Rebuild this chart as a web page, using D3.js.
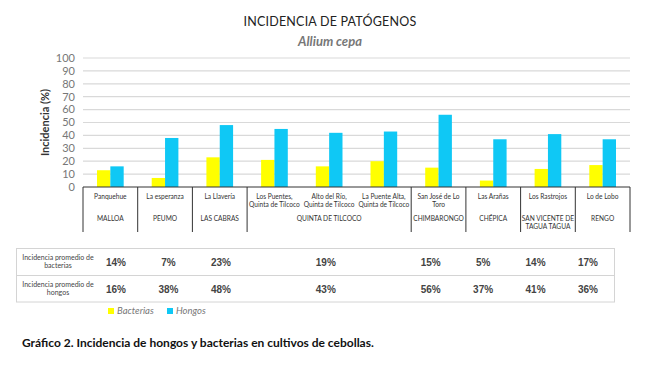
<!DOCTYPE html>
<html>
<head>
<meta charset="utf-8">
<script src="https://cdn.jsdelivr.net/npm/d3@7"></script>
<style>
	body { margin: 0; background: #fff; }
	text { font-family: Lato, "Open Sans", sans-serif; }
</style>
</head>
<body>
<svg id="chart"></svg>
<script>
const sites = ["Panquehue", "La esperanza", "La Llavería", "Los Puentes,|Quinta de Tilcoco", "Alto del Río,|Quinta de Tilcoco",
	"La Puente Alta,|Quinta de Tilcoco", "San José de Lo|Toro", "Las Arañas", "Los Rastrojos", "Lo de Lobo"];
const series = ["Bacterias", "Hongos"];
const bacterias = [13, 7, 23, 21, 16, 20, 15, 5, 14, 17];
const hongos = [16, 38, 48, 45, 42, 43, 56, 37, 41, 37];
const groups = ["MALLOA", "PEUMO", "LAS CABRAS", "QUINTA DE TILCOCO", "CHIMBARONGO", "CHÉPICA", "SAN VICENTE DE|TAGUA TAGUA", "RENGO"];
const groupSpan = [1, 1, 1, 3, 1, 1, 1, 1];
const avgBacterias = ["14%", "7%", "23%", "19%", "15%", "5%", "14%", "17%"];
const avgHongos = ["16%", "38%", "48%", "43%", "56%", "37%", "41%", "36%"];
const rowLabels = ["Incidencia promedio de|bacterias", "Incidencia promedio de|hongos"];
const yTicks = d3.range(0, 101, 10);

const W = 660, H = 372;
const colors = { Bacterias: "#ffff00", Hongos: "#0fc8f5" };

const svg = d3.select("#chart").attr("width", W).attr("height", H);

const x = d3.scaleBand().domain(sites).range([83, 630]);
const x1 = d3.scaleBand().domain(series).range([0, x.bandwidth()]).paddingOuter(1.05);
const y = d3.scaleLinear().domain([0, 100]).range([187, 58]);

// title
svg.append("text").attr("x", 330).attr("y", 26).attr("text-anchor", "middle")
	.attr("font-size", 12.5).attr("fill", "#222").attr("letter-spacing", 0.2)
	.text("INCIDENCIA  DE PATÓGENOS");
svg.append("text").attr("x", 330).attr("y", 46).attr("text-anchor", "middle")
	.attr("font-size", 13).attr("font-style", "italic").attr("font-weight", "bold").attr("fill", "#777")
	.text("Allium cepa");

// grid
svg.append("g").selectAll("line").data(yTicks.slice(1)).enter().append("line")
	.attr("x1", 83).attr("x2", 630).attr("y1", d => y(d)).attr("y2", d => y(d))
	.attr("stroke", "#d9d9d9").attr("stroke-width", 1.2);

svg.append("g").selectAll("text").data(yTicks).enter().append("text")
	.attr("x", 75).attr("y", d => y(d)).attr("dy", "0.35em").attr("text-anchor", "end")
	.attr("font-size", 11).attr("fill", "#777").text(d => d);

svg.append("text").attr("transform", `translate(49,${(y(0) + y(100)) / 2}) rotate(-90)`)
	.attr("text-anchor", "middle").attr("font-size", 11).attr("font-weight", "bold").attr("fill", "#333")
	.text("Incidencia (%)");

// bars
const rows = sites.map((s, i) => ({ site: s, values: [bacterias[i], hongos[i]] }));
svg.append("g").selectAll("g").data(rows).enter().append("g")
	.attr("transform", d => `translate(${x(d.site)},0)`)
	.selectAll("rect").data(d => d.values.map((v, j) => ({ key: series[j], v }))).enter().append("rect")
	.attr("x", d => x1(d.key)).attr("width", x1.bandwidth())
	.attr("y", d => y(d.v)).attr("height", d => y(0) - y(d.v))
	.attr("fill", d => colors[d.key]);

// category axis
svg.append("line").attr("x1", 83).attr("x2", 630).attr("y1", y(0)).attr("y2", y(0))
	.attr("stroke", "#333").attr("stroke-width", 1);

const multiline = (sel, text, lh) => {
	const parts = text.split("|");
	parts.forEach((p, i) => sel.append("tspan").attr("x", sel.attr("x")).attr("dy", i === 0 ? 0 : lh).text(p));
};

sites.forEach(s => {
	const t = svg.append("text").attr("x", x(s) + x.bandwidth() / 2).attr("y", 199)
		.attr("text-anchor", "middle").attr("font-size", 6.6).attr("fill", "#333");
	multiline(t, s, 8);
});

let idx = 0;
const bounds = [x(sites[0])];
groups.forEach((g, i) => {
	const a = x(sites[idx]);
	const b = x(sites[idx + groupSpan[i] - 1]) + x.bandwidth();
	bounds.push(b);
	const t = svg.append("text").attr("x", (a + b) / 2).attr("y", 221)
		.attr("text-anchor", "middle").attr("font-size", 6.6).attr("fill", "#333");
	multiline(t, g, 8);
	idx += groupSpan[i];
});
svg.append("g").selectAll("line").data(bounds).enter().append("line")
	.attr("x1", d => d).attr("x2", d => d).attr("y1", y(0)).attr("y2", 232)
	.attr("stroke", "#333").attr("stroke-width", 1);

// table
const groupCenters = bounds.slice(0, -1).map((b, i) => (b + bounds[i + 1]) / 2);
const tx = d3.scaleLinear().domain([groupCenters[0], groupCenters[groupCenters.length - 1]]).range([116, 588]);

svg.append("rect").attr("x", 16.5).attr("y", 248.5).attr("width", 598).attr("height", 53.5)
	.attr("fill", "none").attr("stroke", "#d4d4d4");
svg.append("line").attr("x1", 16.5).attr("x2", 614.5).attr("y1", 275.5).attr("y2", 275.5)
	.attr("stroke", "#d4d4d4");

[avgBacterias, avgHongos].forEach((vals, r) => {
	const cy = 262 + r * 27.5;
	const t = svg.append("text").attr("x", 58).attr("y", cy - 2.5).attr("text-anchor", "middle")
		.attr("font-size", 7).attr("fill", "#444");
	multiline(t, rowLabels[r], 8.2);
	svg.append("g").selectAll("text").data(vals).enter().append("text")
		.attr("x", (d, i) => tx(groupCenters[i])).attr("y", cy).attr("dy", "0.35em")
		.attr("text-anchor", "middle").attr("font-size", 10).attr("font-weight", "bold")
		.attr("fill", "#444").style("font-family", "Arial, 'Liberation Sans', sans-serif").text(d => d);
});

// legend
const legend = svg.append("g").selectAll("g").data(series).enter().append("g")
	.attr("transform", (d, i) => `translate(${108 + i * 59},311)`);
legend.append("rect").attr("x", 0).attr("y", -3).attr("width", 6).attr("height", 6)
	.attr("fill", d => colors[d]);
legend.append("text").attr("x", 9).attr("dy", "0.35em").attr("font-size", 9.5)
	.attr("font-style", "italic").attr("fill", "#777").text(d => d);

// caption
svg.append("text").attr("x", 22).attr("y", 347).attr("font-size", 12).attr("font-weight", "bold")
	.attr("fill", "#111").text("Gráfico 2. Incidencia de hongos y bacterias en cultivos de cebollas.");
</script>
</body>
</html>
